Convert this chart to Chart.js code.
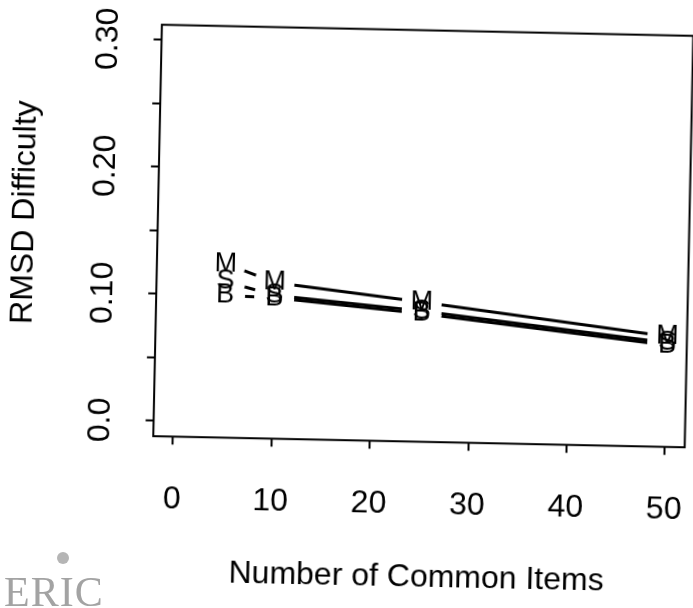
<!DOCTYPE html>
<html><head><meta charset="utf-8">
<script src="https://cdn.jsdelivr.net/npm/chart.js@4.4.1/dist/chart.umd.min.js"></script>
<style>
html,body{margin:0;padding:0;background:#fff;overflow:hidden;width:693px;height:608px;}
#wrap{position:absolute;left:0;top:0;width:693px;height:608px;transform:rotate(1.2deg);transform-origin:346.5px 304px;}
canvas{display:block;}
#eric{position:absolute;left:4px;top:571px;font-family:"Liberation Serif","DejaVu Serif",serif;font-size:42px;line-height:1;color:#a3a3a3;letter-spacing:1px;}
#globe{position:absolute;left:57px;top:552px;width:12px;height:12px;border-radius:50%;background:#b5b5b5;}
</style></head><body>
<div id="wrap"><canvas id="c" width="693" height="608"></canvas></div>
<div id="globe"></div><div id="eric">ERIC</div>
<script>
const FONT = '"Liberation Sans", Arial, Helvetica, sans-serif';
const xValues = [5, 10, 25, 50];
const seriesM = [0.125, 0.111, 0.098, 0.075];
const seriesS = [0.111, 0.101, 0.091, 0.070];
const seriesB = [0.100, 0.099, 0.089, 0.068];
const seriesLetters = ['M', 'S', 'B'];
const xTicks = [0, 10, 20, 30, 40, 50];
const xTickLabels = ['0', '10', '20', '30', '40', '50'];
const yTicks = [0, 0.05, 0.10, 0.15, 0.20, 0.25, 0.30];
const yTickLabels = ['0.0', '', '0.10', '', '0.20', '', '0.30'];
const xTitle = 'Number of Common Items';
const yTitle = 'RMSD Difficulty';

const toPoints = arr => xValues.map((x, i) => ({x: x, y: arr[i]}));
const ds = (label, arr) => ({
  label: label, data: toPoints(arr), borderColor: '#000', borderWidth: 3,
  pointRadius: 20, pointHoverRadius: 20, pointBackgroundColor: '#fff',
  pointBorderWidth: 0, pointBorderColor: '#fff', tension: 0, fill: false
});

const rPlot = {
  id: 'rplot',
  afterDatasetsDraw(chart) {
    const ctx = chart.ctx, ca = chart.chartArea;
    ctx.save();
    ctx.fillStyle = '#000';
    ctx.textAlign = 'center';
    ctx.textBaseline = 'middle';
    ctx.font = '27px ' + FONT;
    chart.data.datasets.forEach((d, i) => {
      chart.getDatasetMeta(i).data.forEach(el => ctx.fillText(seriesLetters[i], el.x, el.y));
    });
    ctx.lineWidth = 2;
    ctx.strokeStyle = '#000';
    ctx.strokeRect(ca.left, ca.top, ca.right - ca.left, ca.bottom - ca.top);
    const ys = chart.scales.y;
    ctx.font = '32px ' + FONT;
    yTicks.forEach((v, i) => {
      if (!yTickLabels[i]) return;
      const py = ys.getPixelForValue(v);
      ctx.save();
      ctx.translate(ca.left - 52.6, py);
      ctx.rotate(-Math.PI / 2);
      ctx.fillText(yTickLabels[i], 0, 0);
      ctx.restore();
    });
    ctx.save();
    ctx.translate(23, (ca.top + ca.bottom) / 2 - 15.5);
    ctx.rotate(-Math.PI / 2);
    ctx.fillText(yTitle, 0, 0);
    ctx.restore();
    ctx.restore();
  }
};

new Chart(document.getElementById('c'), {
  type: 'line',
  data: { datasets: [ds('M', seriesM), ds('S', seriesS), ds('B', seriesB)] },
  options: {
    responsive: false, animation: false, events: [],
    layout: { autoPadding: false, padding: { top: 28.66, right: 5.4, bottom: 0, left: 0 } },
    plugins: { legend: { display: false }, tooltip: { enabled: false } },
    scales: {
      x: {
        type: 'linear', min: -2, max: 52,
        afterBuildTicks: s => { s.ticks = xTicks.map(v => ({value: v})); },
        afterFit: s => { s.height = 167.8; s.paddingLeft = 0; s.paddingRight = 0; },
        ticks: {
          callback: v => xTickLabels[xTicks.indexOf(v)],
          font: { size: 32, family: FONT }, color: '#000', padding: 35.6,
          maxRotation: 0, minRotation: 0, autoSkip: false
        },
        grid: { drawOnChartArea: false, drawTicks: true, tickLength: 8, tickWidth: 2, tickColor: '#000', color: '#000' },
        border: { display: false },
        title: { display: true, text: xTitle, color: '#000', font: { size: 32, family: FONT }, padding: { top: 0, bottom: 13 } }
      },
      y: {
        type: 'linear', min: -0.012, max: 0.312,
        afterBuildTicks: s => { s.ticks = yTicks.map(v => ({value: v})); },
        afterFit: s => { s.width = 156.1; s.paddingTop = 0; s.paddingBottom = 0; },
        ticks: { display: false },
        grid: { drawOnChartArea: false, drawTicks: true, tickLength: 8, tickWidth: 2, tickColor: '#000', color: '#000' },
        border: { display: false },
        title: { display: false, text: yTitle }
      }
    }
  },
  plugins: [rPlot]
});
</script></body></html>
